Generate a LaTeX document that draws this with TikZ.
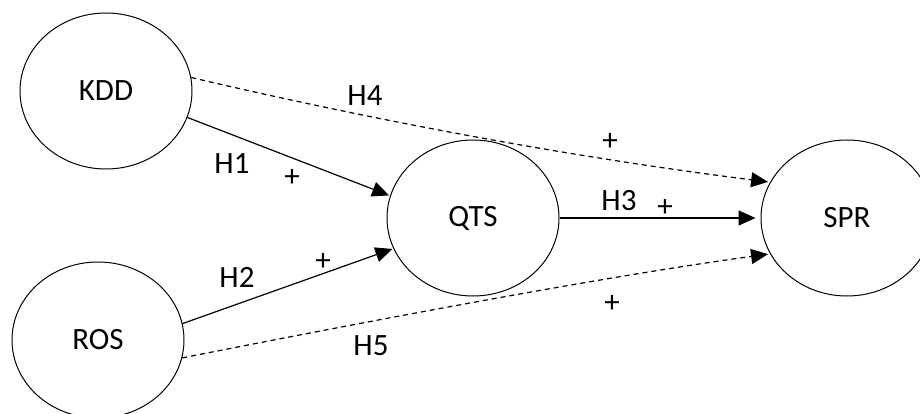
\documentclass[tikz,border=0pt]{standalone}
\usepackage{fontspec}
\setmainfont{Carlito}
\usetikzlibrary{arrows.meta,shapes.geometric}
\begin{document}
\begin{tikzpicture}[x=1pt,y=-1pt,
  lat/.style={draw=black,line width=1pt,ellipse,minimum width=172pt,minimum height=156pt,inner sep=0pt,font=\fontsize{31}{37}\selectfont},
  lbl/.style={font=\fontsize{31}{37}\selectfont,inner sep=0pt,anchor=base},
  conn/.style={line width=1.2pt,-{Triangle[length=17pt,width=15pt]}},
  dconn/.style={conn,dash pattern=on 5pt off 4pt}]
\useasboundingbox (0,0) rectangle (920,414);
\node[lat] (kdd) at (106,91) {KDD};
\node[lat] (ros) at (98,340) {ROS};
\node[lat] (qts) at (473,218) {QTS};
\node[lat] (spr) at (847,218) {SPR};
\draw[conn,shorten >=1pt] (kdd.-18) -- (qts.165);
\draw[conn,shorten >=1pt] (ros.11) -- (qts.-159);
\draw[conn,shorten >=5pt] (qts.east) -- (spr.west);
\draw[dconn,shorten >=2pt] (kdd.9.4) .. controls (394,125) and (586,159) .. (spr.155);
\draw[dconn,shorten >=2pt] (ros.-12.7) .. controls (435,308) and (630,273) .. (spr.205);
\node[lbl] (h4) at (365,106) {H4};
\node[lbl] (h1) at (232,174) {H1};
\node[lbl] (p1) at (292,186) {+};
\node[lbl] (h2) at (237,287) {H2};
\node[lbl] (p2) at (323,270) {+};
\node[lbl] (h5) at (371,355) {H5};
\node[lbl] (p4) at (610,151) {+};
\node[lbl] (h3) at (619,210) {H3};
\node[lbl] (p3) at (665,216) {+};
\node[lbl] (p5) at (612,312) {+};
\end{tikzpicture}
\end{document}
